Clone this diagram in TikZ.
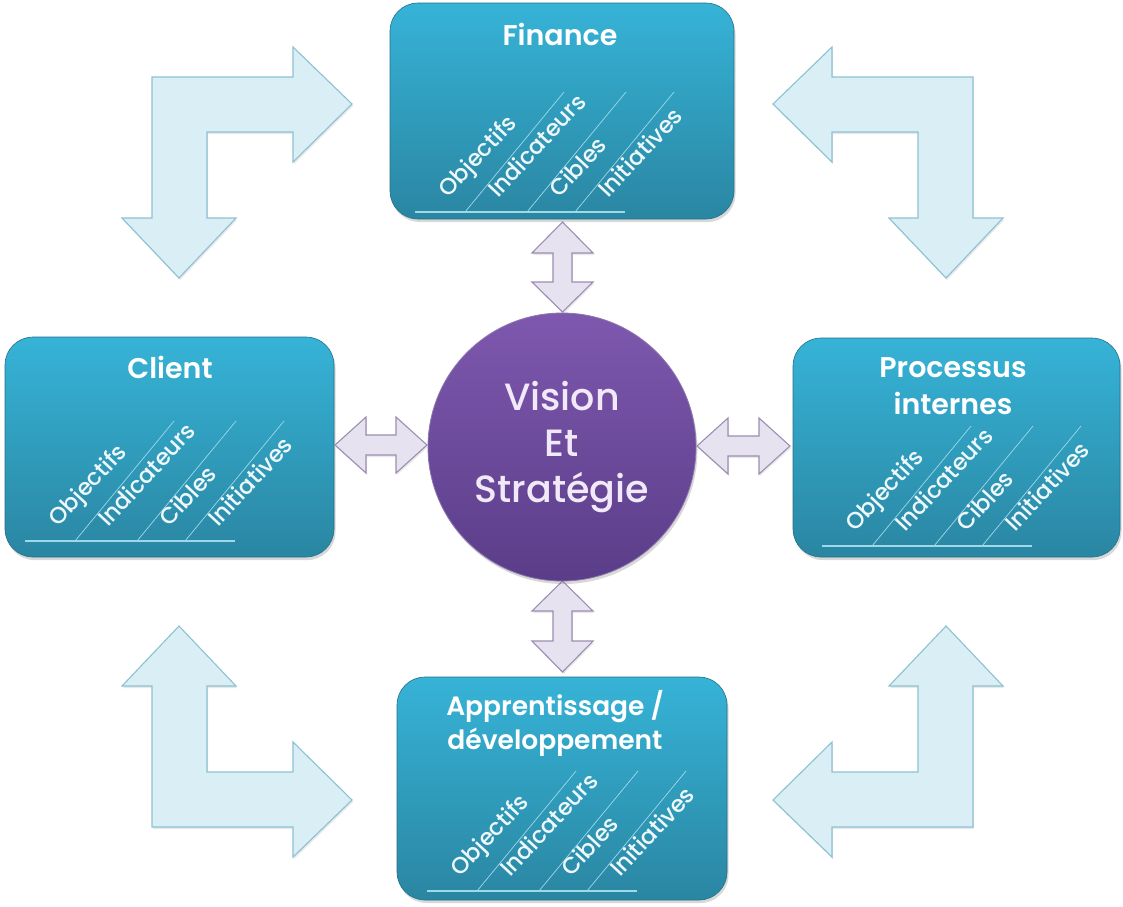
\documentclass[tikz,border=0pt]{standalone}
\usepackage{fontspec}
\setmainfont{Poppins}
\newfontfamily\popmed{Poppins Medium}
\newfontfamily\popsemi{Poppins SemiBold}
\usetikzlibrary{shadows,calc}
\definecolor{boxtop}{HTML}{36B3D7}
\definecolor{boxbot}{HTML}{2A86A2}
\definecolor{boxedge}{HTML}{23718A}
\definecolor{boxline}{HTML}{9ED9EA}
\definecolor{kpitxt}{HTML}{EEF8FB}
\definecolor{larrfill}{HTML}{DAEEF5}
\definecolor{larrdraw}{HTML}{8CC2D2}
\definecolor{darrfill}{HTML}{E7E2EF}
\definecolor{darrdraw}{HTML}{9C8EB3}
\definecolor{vtop}{HTML}{7E58AE}
\definecolor{vbot}{HTML}{5A3D89}
\definecolor{vtxt}{HTML}{F1E9F7}
\tikzset{
  pbox/.style={rounded corners=28pt, top color=boxtop, bottom color=boxbot,
    draw=boxedge, line width=0.6pt, inner sep=0pt,
    drop shadow={opacity=.3, shadow xshift=1.5pt, shadow yshift=-3pt}},
  ptitle/.style={text=white, align=center, inner sep=0pt,
    font=\popsemi\fontsize{28.5}{37}\selectfont},
  kpitext/.style={anchor=base west, rotate=47, inner sep=0pt, text=kpitxt,
    font=\popmed\fontsize{23}{23}\selectfont},
  larrow/.style={fill=larrfill, draw=larrdraw, line width=1.1pt, line join=miter,
    drop shadow={opacity=.18, shadow xshift=1pt, shadow yshift=-2pt}},
  darrow/.style={fill=darrfill, draw=darrdraw, line width=1.1pt,
    drop shadow={opacity=.18, shadow xshift=1pt, shadow yshift=-2pt}},
  kpi/.pic={
    \draw[boxline, line width=2pt] (0,0) -- (210,0);
    \foreach \d in {50,112,160} \draw[boxline, line width=0.7pt] (\d,0) -- ++(99,-120);
    \foreach \d/\t [count=\i] in {33/Objectifs,83/Indicateurs,144/Cibles,193/Initiatives}
      \node[kpitext] (-k\i) at (\d,-13) {\t};
  }
}
\newcommand\Larrow[2]{%
  \begin{scope}[shift={(562.5,452)}, xscale=#1, yscale=#2]
    \draw[larrow] (-410.5,-375) -- (-269.5,-375) -- (-269.5,-405) -- (-210.5,-348)
      -- (-269.5,-290) -- (-269.5,-320) -- (-355.5,-320) -- (-355.5,-234)
      -- (-326.5,-234) -- (-383.5,-174) -- (-440.5,-234) -- (-410.5,-234) -- cycle;
  \end{scope}}
\begin{document}
\begin{tikzpicture}[x=1pt,y=-1pt]
\useasboundingbox[fill=white] (0,0) rectangle (1123,906);

% corner L-shaped arrows
\Larrow{1}{1}
\Larrow{-1}{1}
\Larrow{1}{-1}
\Larrow{-1}{-1}

% boxes
\node[pbox, minimum width=344pt, minimum height=216pt] (fin) at (562,111) {};
\node[pbox, minimum width=329pt, minimum height=220pt] (clt) at (169.5,447) {};
\node[pbox, minimum width=327pt, minimum height=219pt] (pro) at (956.5,447.5) {};
\node[pbox, minimum width=330pt, minimum height=223pt] (app) at (562,788.5) {};

% titles
\node[ptitle] (finT) at (560,34) {Finance};
\node[ptitle] (cltT) at (170,367) {Client};
\node[ptitle] (proT) at (953,386) {Processus\\internes};
\node[ptitle, font=\popsemi\fontsize{26.5}{34}\selectfont] (appT) at (555,723) {Apprentissage /\\développement};

% KPI rows
\pic (finK) at (415,212) {kpi};
\pic (cltK) at (25,541) {kpi};
\pic (proK) at (822,546) {kpi};
\pic (appK) at (427,891) {kpi};

% double arrows
\draw[darrow] (562.5,222) -- (593,253) -- (572,253) -- (572,282) -- (593,282) -- (562.5,312)
  -- (532,282) -- (553,282) -- (553,253) -- (532,253) -- cycle;
\draw[darrow] (562.5,581) -- (593,611) -- (572,611) -- (572,641) -- (593,641) -- (562.5,672)
  -- (532,641) -- (553,641) -- (553,611) -- (532,611) -- cycle;
\draw[darrow] (335,445) -- (366,417) -- (366,435) -- (396,435) -- (396,417) -- (427,445)
  -- (396,473) -- (396,455) -- (366,455) -- (366,473) -- cycle;
\draw[darrow] (697,446) -- (728,418) -- (728,436) -- (759,436) -- (759,418) -- (790,446)
  -- (759,474) -- (759,456) -- (728,456) -- (728,474) -- cycle;

% centre circle
\node[circle, minimum size=268pt, inner sep=0pt, top color=vtop, bottom color=vbot,
  draw=vbot!70!white, line width=0.8pt,
  drop shadow={opacity=.3, shadow xshift=1.5pt, shadow yshift=-3pt}] (vis) at (562,447) {};
\node[text=vtxt, align=center, inner sep=0pt, font=\popmed\fontsize{38}{46}\selectfont] (visT) at (562,447)
  {Vision\\Et\\Stratégie};
\end{tikzpicture}
\end{document}
